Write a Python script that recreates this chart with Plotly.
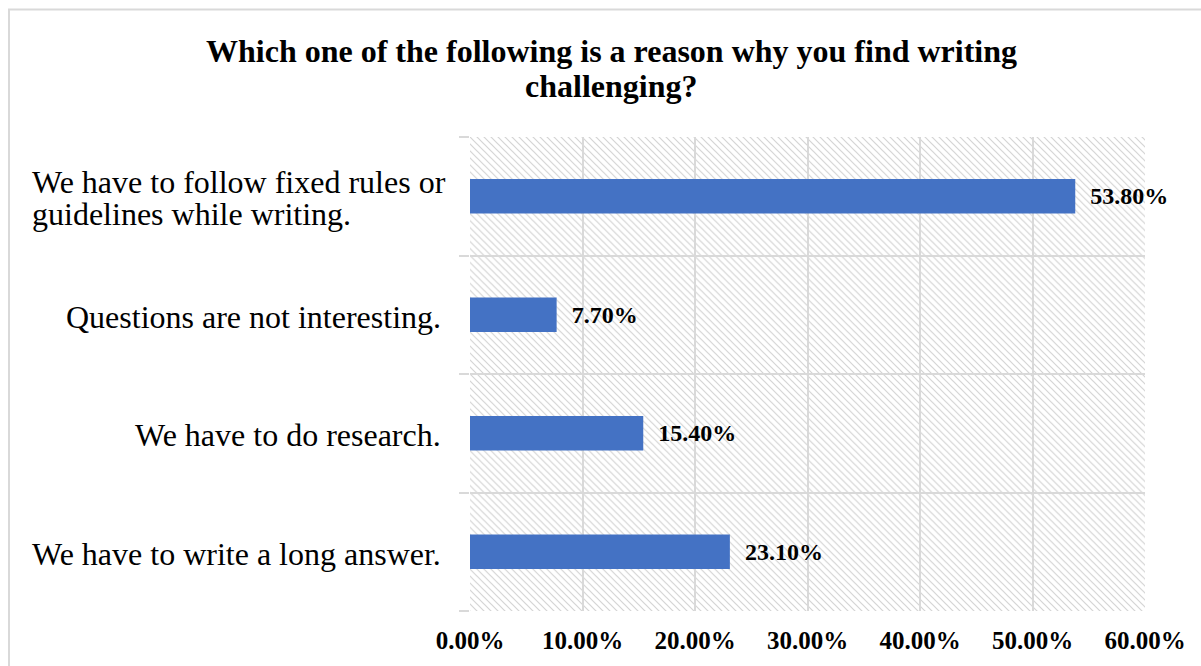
import plotly.graph_objects as go
import base64

categories = [
    "We have to follow fixed rules or<br>guidelines while writing.",
    "Questions are not interesting.",
    "We have to do research.",
    "We have to write a long answer.",
]
values = [0.538, 0.077, 0.154, 0.231]
value_labels = ["53.80%", "7.70%", "15.40%", "23.10%"]
x_ticks = [0, 0.1, 0.2, 0.3, 0.4, 0.5, 0.6]
x_tick_labels = ["0.00%", "10.00%", "20.00%", "30.00%", "40.00%", "50.00%", "60.00%"]
title_lines = ["Which one of the following is a reason why you find writing", "challenging?"]

W, H = 1201, 666
ML, MR, MT, MB = 470, 56, 137, 53
PW, PH = W - ML - MR, H - MT - MB

svg = (
    f'<svg xmlns="http://www.w3.org/2000/svg" width="{PW}" height="{PH}" viewBox="0 0 {PW} {PH}">'
    '<defs><pattern id="h" patternUnits="userSpaceOnUse" width="7" height="7">'
    '<path d="M-1,-1 L8,8 M-1,6 L1,8 M6,-1 L8,1" stroke="#d4d4d4" stroke-width="1.2"/>'
    '</pattern></defs>'
    f'<rect width="{PW}" height="{PH}" fill="url(#h)"/></svg>'
)
src = "data:image/svg+xml;base64," + base64.b64encode(svg.encode()).decode()

font = "Liberation Serif, Times New Roman, serif"


def py(ypx):
    return (H - MB - ypx) / PH


fig = go.Figure()
fig.add_trace(go.Bar(
    y=categories, x=values, orientation="h",
    marker=dict(color="#4472C4", line=dict(width=0)),
    text=["\u00a0\u00a0" + t for t in value_labels], textposition="outside",
    textfont=dict(family=font, size=24, color="black", weight="bold"),
    cliponaxis=False, width=0.29,
))

for c in categories:
    parts = c.split("<br>")
    n = len(parts)
    for i, p in enumerate(parts):
        fig.add_annotation(
            x=0, xref="paper", y=c, yref="y", text=p, showarrow=False,
            xanchor="right" if n == 1 else "left", align="left",
            xshift=-27 if n == 1 else -440,
            yshift=(n - 1) * 16 - i * 32 - 2,
            font=dict(family=font, size=32, color="black"),
        )

for i, t in enumerate(title_lines):
    fig.add_annotation(
        x=0.5, xref="paper", y=py(51 + 35 * i), yref="paper", text=t, showarrow=False,
        xanchor="center", yanchor="middle", xshift=611 - (ML + PW / 2),
        font=dict(family=font, size=32, color="black", weight="bold"),
    )

fig.add_layout_image(dict(
    source=src, xref="paper", yref="paper", x=0, y=1, sizex=1, sizey=1,
    xanchor="left", yanchor="top", sizing="stretch", layer="below",
))

fig.add_shape(type="rect", xref="paper", yref="paper",
              x0=(9 - ML) / PW, x1=(1210 - ML) / PW,
              y0=py(H + 10), y1=py(9),
              line=dict(color="#d9d9d9", width=2), fillcolor="rgba(0,0,0,0)", layer="below")

fig.update_layout(
    width=W, height=H,
    margin=dict(l=ML, r=MR, t=MT, b=MB),
    paper_bgcolor="white", plot_bgcolor="rgba(0,0,0,0)",
    showlegend=False,
    bargap=0.71,
)
fig.update_xaxes(
    range=[0, 0.6], tickvals=x_ticks, ticktext=x_tick_labels,
    showgrid=True, gridcolor="#d9d9d9", gridwidth=1.5, zeroline=False,
    showline=False, ticks="", ticklabelstandoff=12,
    tickfont=dict(family=font, size=25, color="black", weight="bold"),
)
fig.update_yaxes(
    categoryorder="array", categoryarray=categories[::-1],
    tickson="boundaries", ticks="outside", ticklen=10, tickcolor="#d9d9d9", tickwidth=1.5,
    showgrid=True, gridcolor="#d9d9d9", gridwidth=1.5,
    showticklabels=False, showline=False, zeroline=False,
)

fig.write_html("out.html")
